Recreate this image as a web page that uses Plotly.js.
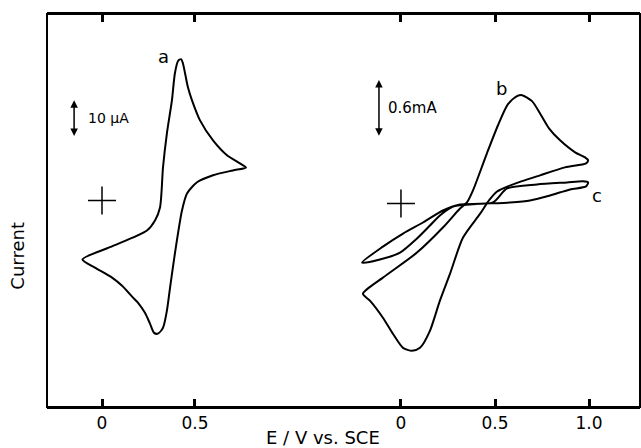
<!DOCTYPE html>
<html>
<head>
<meta charset="utf-8">
<script src="https://cdn.plot.ly/plotly-3.0.1.min.js"></script>
<style>html,body{margin:0;padding:0;background:#fff;}#chart{width:641px;height:448px;}</style>
</head>
<body>
<div id="chart"></div>
<script>
// Curve a (left panel): potential (V vs. SCE) and current (µA)
var aV = [-0.105, 0.043, 0.242, 0.285, 0.312, 0.328, 0.349, 0.376, 0.392, 0.409, 0.425, 0.435, 0.462, 0.484, 0.527, 0.597, 0.672, 0.742, 0.774, 0.704, 0.597, 0.511, 0.457, 0.430, 0.392, 0.366, 0.349, 0.328, 0.301, 0.280, 0.258, 0.231, 0.194, 0.167, 0.108, 0.054, -0.038, -0.105];
var aI = [-15.9, -12.6, -8.1, -5.4, -1.9, 8.9, 18.1, 27.0, 34.3, 37.6, 38.1, 37.0, 30.5, 27.0, 21.6, 16.2, 12.2, 10.0, 8.9, 8.1, 6.8, 4.9, 1.9, -2.7, -14.3, -23.5, -29.7, -34.3, -35.9, -35.7, -33.2, -30.3, -27.6, -26.2, -23.0, -20.8, -18.1, -15.9];

// Curve b (right panel): potential (V) and current (mA)
var bV = [-0.202, -0.096, 0.085, 0.223, 0.314, 0.351, 0.383, 0.457, 0.516, 0.569, 0.617, 0.644, 0.697, 0.745, 0.787, 0.846, 0.926, 0.979, 0.995, 0.984, 0.872, 0.739, 0.596, 0.511, 0.468, 0.420, 0.330, 0.261, 0.207, 0.154, 0.101, 0.059, 0.011, -0.043, -0.096, -0.165, -0.202];
var bI = [-0.947, -0.779, -0.516, -0.253, -0.053, 0.011, 0.137, 0.526, 0.821, 1.042, 1.126, 1.137, 1.074, 0.926, 0.789, 0.663, 0.537, 0.484, 0.453, 0.421, 0.379, 0.295, 0.200, 0.126, 0.032, -0.110, -0.358, -0.737, -1.021, -1.337, -1.516, -1.547, -1.516, -1.368, -1.200, -1.021, -0.947];

// Curve c (right panel): potential (V) and current (mA)
var cV = [-0.207, -0.096, 0.011, 0.117, 0.223, 0.314, 0.489, 0.564, 0.723, 0.883, 0.968, 0.995, 0.984, 0.899, 0.793, 0.686, 0.580, 0.367, 0.277, 0.207, 0.154, 0.085, -0.005, -0.112, -0.207];
var cI = [-0.621, -0.453, -0.316, -0.200, -0.074, -0.011, 0.011, 0.158, 0.200, 0.221, 0.232, 0.221, 0.179, 0.147, 0.084, 0.032, 0.011, -0.011, -0.032, -0.126, -0.232, -0.368, -0.516, -0.589, -0.621];

// Tick labels
var leftTicks = [0, 0.5];
var leftTickText = ['0', '0.5'];
var rightTicks = [0, 0.5, 1.0];
var rightTickText = ['0', '0.5', '1.0'];

// Scale bars
var scaleA = 10;   // µA
var scaleB = 0.6;  // mA

var FONT = 'DejaVu Sans, Liberation Sans, sans-serif';
var lineStyle = {color: '#000', width: 2, shape: 'spline', smoothing: 0.7};

var traces = [
  {x: aV, y: aI, xaxis: 'x', yaxis: 'y', mode: 'lines', line: lineStyle, hoverinfo: 'skip'},
  {x: bV, y: bI, xaxis: 'x2', yaxis: 'y2', mode: 'lines', line: lineStyle, hoverinfo: 'skip'},
  {x: cV, y: cI, xaxis: 'x2', yaxis: 'y2', mode: 'lines', line: lineStyle, hoverinfo: 'skip'},
  {x: [0], y: [0], xaxis: 'x', yaxis: 'y', mode: 'markers', hoverinfo: 'skip',
   marker: {symbol: 'cross-thin-open', size: 20, color: '#000', line: {color: '#000', width: 1.5}}},
  {x: [0], y: [0], xaxis: 'x2', yaxis: 'y2', mode: 'markers', hoverinfo: 'skip',
   marker: {symbol: 'cross-thin-open', size: 20, color: '#000', line: {color: '#000', width: 1.5}}}
];

var layout = {
  width: 641, height: 448,
  margin: {l: 47, r: 1, t: 14, b: 41},
  paper_bgcolor: '#fff',
  plot_bgcolor: 'rgba(0,0,0,0)',
  showlegend: false,
  xaxis: {
    domain: [0, 0.4266], range: [-0.2957, 1.0645], anchor: 'y',
    showgrid: false, zeroline: false, showline: true, linecolor: '#000', linewidth: 2,
    ticks: 'inside', ticklen: 8, tickwidth: 2.5, tickcolor: '#000', mirror: 'ticks',
    tickmode: 'array', tickvals: leftTicks, ticktext: leftTickText,
    tickfont: {family: FONT, size: 17, color: '#000'}
  },
  xaxis2: {
    domain: [0.4266, 1], range: [-0.537, 1.271], anchor: 'y2',
    showgrid: false, zeroline: false, showline: true, linecolor: '#000', linewidth: 2,
    ticks: 'inside', ticklen: 8, tickwidth: 2.5, tickcolor: '#000', mirror: 'ticks',
    tickmode: 'array', tickvals: rightTicks, ticktext: rightTickText,
    tickfont: {family: FONT, size: 17, color: '#000'}
  },
  yaxis: {range: [-55.68, 50.27], anchor: 'x', showgrid: false, zeroline: false,
    showline: false, showticklabels: false, ticks: ''},
  yaxis2: {range: [-2.137, 1.989], anchor: 'x2', showgrid: false, zeroline: false,
    showline: false, showticklabels: false, ticks: ''},
  shapes: [
    {type: 'rect', xref: 'paper', yref: 'paper', x0: 0, x1: 1, y0: 0, y1: 1,
     line: {color: '#000', width: 2}, fillcolor: 'rgba(0,0,0,0)'}
  ],
  annotations: [
    {xref: 'paper', yref: 'paper', x: 0.465, y: -0.078, text: 'E / V vs. SCE', showarrow: false,
     xanchor: 'center', yanchor: 'middle', font: {family: FONT, size: 18, color: '#000'}},
    {xref: 'paper', yref: 'paper', x: -0.049, y: 0.385, text: 'Current', showarrow: false, textangle: -90,
     xanchor: 'center', yanchor: 'middle', font: {family: FONT, size: 18, color: '#000'}},
    {xref: 'x', yref: 'y', x: 0.328, y: 38.8, text: 'a', showarrow: false,
     font: {family: FONT, size: 18, color: '#000'}},
    {xref: 'x2', yref: 'y2', x: 0.532, y: 1.21, text: 'b', showarrow: false,
     font: {family: FONT, size: 18, color: '#000'}},
    {xref: 'x2', yref: 'y2', x: 1.043, y: 0.084, text: 'c', showarrow: false,
     font: {family: FONT, size: 18, color: '#000'}},
    {xref: 'x', yref: 'y', x: -0.086, y: 22.2, text: '10 \u00b5A', showarrow: false, xanchor: 'left',
     font: {family: FONT, size: 14, color: '#000'}},
    {xref: 'x2', yref: 'y2', x: -0.08, y: 1.0, text: '0.6mA', showarrow: false, xanchor: 'left',
     font: {family: FONT, size: 15, color: '#000'}},
    {xref: 'x', yref: 'y', axref: 'x', ayref: 'y', x: -0.15, y: 17.0 + scaleA, ax: -0.15, ay: 17.0,
     text: '', showarrow: true, arrowside: 'end+start', arrowhead: 2, startarrowhead: 2,
     arrowsize: 1, startarrowsize: 1, arrowwidth: 1.5, arrowcolor: '#000', standoff: 0, startstandoff: 0},
    {xref: 'x2', yref: 'y2', axref: 'x2', ayref: 'y2', x: -0.117, y: 0.695 + scaleB, ax: -0.117, ay: 0.695,
     text: '', showarrow: true, arrowside: 'end+start', arrowhead: 2, startarrowhead: 2,
     arrowsize: 1, startarrowsize: 1, arrowwidth: 1.5, arrowcolor: '#000', standoff: 0, startstandoff: 0}
  ]
};

Plotly.newPlot('chart', traces, layout, {displayModeBar: false});
</script>
</body>
</html>
